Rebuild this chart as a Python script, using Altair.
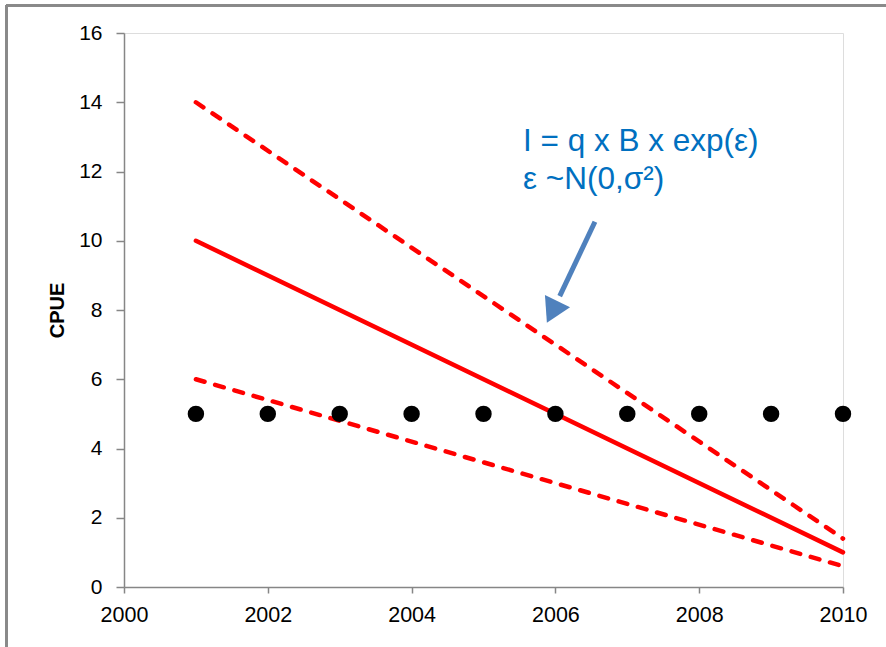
import altair as alt
import pandas as pd

# Observed CPUE points
obs_years = [2001, 2002, 2003, 2004, 2005, 2006, 2007, 2008, 2009, 2010]
obs_cpue = [5, 5, 5, 5, 5, 5, 5, 5, 5, 5]

# Model lines (mean and bounds)
line_years = [2001, 2010]
mean_cpue = [10, 1]
upper_cpue = [14, 1.4]
lower_cpue = [6, 0.6]

# Annotation
note_lines = ["I = q x B x exp(ε)", "ε ~N(0,σ²)"]
note_year = [2005.55, 2005.55]
note_cpue = [12.6, 11.5]

# Arrow (shaft start/end, head position)
arrow_year = [2006.55, 2006.06]
arrow_cpue = [10.55, 8.4]
head_year = [2005.98]
head_cpue = [8.05]

x_ticks = [2000, 2002, 2004, 2006, 2008, 2010]
y_ticks = [0, 2, 4, 6, 8, 10, 12, 14, 16]

obs = pd.DataFrame({"year": obs_years, "cpue": obs_cpue})
lines = pd.DataFrame({
    "year": line_years * 3,
    "cpue": mean_cpue + upper_cpue + lower_cpue,
    "series": ["mean"] * 2 + ["upper"] * 2 + ["lower"] * 2,
})
notes = pd.DataFrame({"year": note_year, "cpue": note_cpue, "label": note_lines})
arrow = pd.DataFrame({"year": arrow_year, "cpue": arrow_cpue})
head = pd.DataFrame({"year": head_year, "cpue": head_cpue})

xs = alt.Scale(domain=[2000, 2010], nice=False, zero=False)
ys = alt.Scale(domain=[0, 16], nice=False)

x_axis = alt.Axis(values=x_ticks, format="d", grid=False, title=None,
                  domainColor="#868686", domainWidth=1.5, tickColor="#868686",
                  tickWidth=1.5, tickSize=6, labelFont="Liberation Sans",
                  labelFontSize=21.5, labelColor="#000000", labelPadding=11,
                  labelFlush=False)
y_axis = alt.Axis(values=y_ticks, grid=False, title="CPUE",
                  domainColor="#868686", domainWidth=1.5, tickColor="#868686",
                  tickWidth=1.5, tickSize=8, labelFont="Liberation Sans",
                  labelFontSize=21, labelColor="#000000", labelPadding=14,
                  titleFont="Liberation Sans", titleFontSize=20,
                  titleFontWeight="bold", titleColor="#000000",
                  titleAngle=-90, titleX=-61, titleY=277,
                  titleAlign="center", titleBaseline="alphabetic")

X = alt.X("year:Q", scale=xs, axis=x_axis)
Y = alt.Y("cpue:Q", scale=ys, axis=y_axis)

mean_line = alt.Chart(lines).transform_filter(alt.datum.series == "mean").mark_line(
    color="#FF0000", strokeWidth=4.5, strokeCap="round"
).encode(x=X, y=Y)

dash_lines = alt.Chart(lines).transform_filter(alt.datum.series != "mean").mark_line(
    color="#FF0000", strokeWidth=4.5, strokeCap="round", strokeDash=[9, 11]
).encode(x=X, y=Y, detail="series:N")

points = alt.Chart(obs).mark_point(
    shape="circle", filled=True, color="#000000", size=270, opacity=1
).encode(x=X, y=Y)

text = alt.Chart(notes).mark_text(
    align="left", baseline="alphabetic", font="Liberation Sans",
    fontSize=31.5, color="#0070C0"
).encode(x=X, y=Y, text="label:N")

shaft = alt.Chart(arrow).mark_line(color="#4F81BD", strokeWidth=5).encode(
    x=X, y=Y)

arrow_head = alt.Chart(head).mark_point(
    shape="triangle", filled=True, color="#4F81BD", size=780, angle=206, opacity=1
).encode(x=X, y=Y)

frame_left = alt.Chart(obs).mark_rule(color="#898989", strokeWidth=2).encode(
    x=alt.value(-117.5), y=alt.value(-28), y2=alt.value(640))
frame_top = alt.Chart(obs).mark_rule(color="#898989", strokeWidth=2).encode(
    y=alt.value(-27.5), x=alt.value(-118), x2=alt.value(780))

chart = alt.layer(
    mean_line, dash_lines, points, text, shaft, arrow_head, frame_left, frame_top
).properties(
    width=719, height=554,
    autosize=alt.AutoSizeParams(type="none"),
    padding={"left": 124, "top": 33, "right": 43, "bottom": 60},
).configure_view(stroke=None).configure(background="#ffffff")

chart.save("out.html", embed_options={"renderer": "svg", "actions": False})
